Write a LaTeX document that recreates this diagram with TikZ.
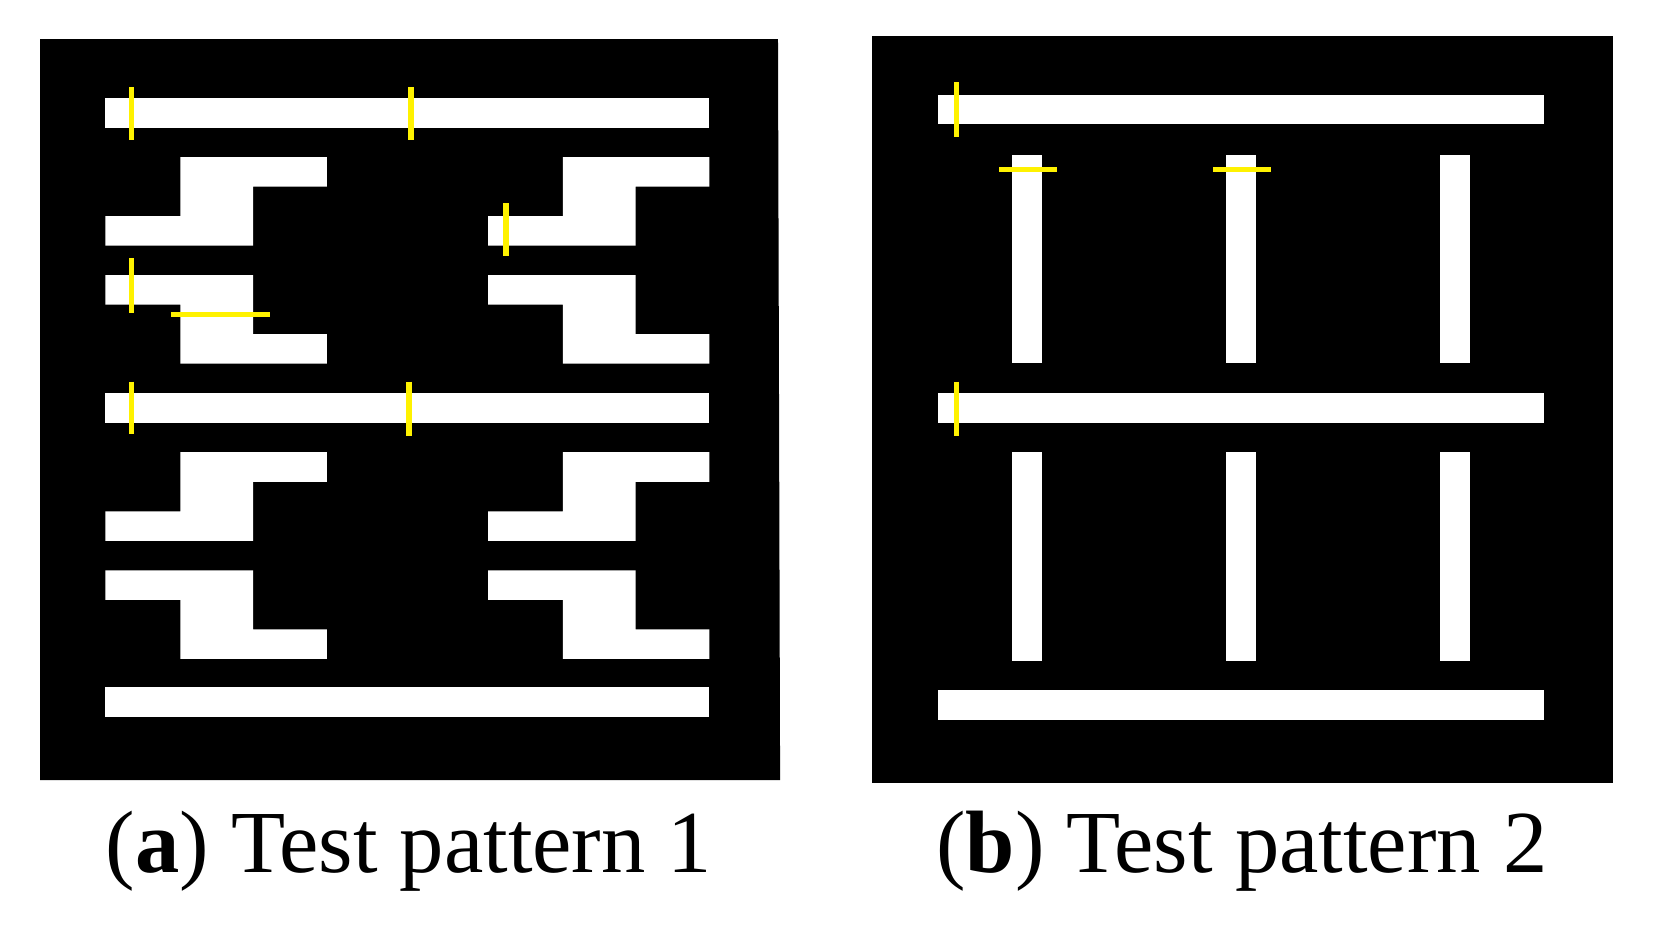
\documentclass[tikz,border=0pt]{standalone}
\usepackage{fontspec}
\setmainfont{Liberation Serif}
\begin{document}
\begin{tikzpicture}[x=1pt,y=-1pt,
  bg/.style={fill=black},
  wb/.style={fill=white},
  yl/.style={draw=yellow,line width=5pt},
  captext/.style={font=\fontsize{84}{90}\selectfont,inner sep=0pt,anchor=base}]
\useasboundingbox (0,0) rectangle (1569,878);
\fill[bg] (38,37) -- (738,37) -- (740,740) -- (38,740) -- cycle;
\fill[bg] (827,34) rectangle (1530,743);
% panel a
\foreach \y in {93,373,652} \fill[wb] (100,\y) rectangle (673,\y+28);
\foreach \dx in {0,363} \foreach \dy in {0,280} {
  \begin{scope}[shift={(\dx,\dy)}]
  \fill[wb] (171,149)--(310,149)--(310,177)--(240,177)--(240,233)--(100,233)--(100,205)--(171,205)--cycle;
  \fill[wb] (100,261)--(240,261)--(240,317)--(310,317)--(310,345)--(171,345)--(171,289)--(100,289)--cycle;
  \end{scope}}
\draw[yl] (125,83)--(125,133);
\draw[yl] (390,83)--(390,133);
\draw[yl] (480,193)--(480,243);
\draw[yl] (125,245)--(125,297);
\draw[yl] (162,298)--(256,298);
\draw[yl] (125,362)--(125,412);
\draw[yl] (388,362)--(388,414);
% panel b
\foreach \y in {90,373,655} \fill[wb] (890,\y) rectangle (1465,\y+28);
\foreach \x in {960,1163,1366} {
  \fill[wb] (\x,147) rectangle (\x+28,344);
  \fill[wb] (\x,429) rectangle (\x+28,627);}
\draw[yl] (907,78)--(907,130);
\draw[yl] (907,362)--(907,414);
\draw[yl] (948,161)--(1003,161);
\draw[yl] (1151,161)--(1206,161);
\node[captext] (ca) at (388,828) {(\textbf{a}) Test pattern 1};
\node[captext] (cb) at (1178,828) {(\textbf{b}) Test pattern 2};
\end{tikzpicture}
\end{document}
